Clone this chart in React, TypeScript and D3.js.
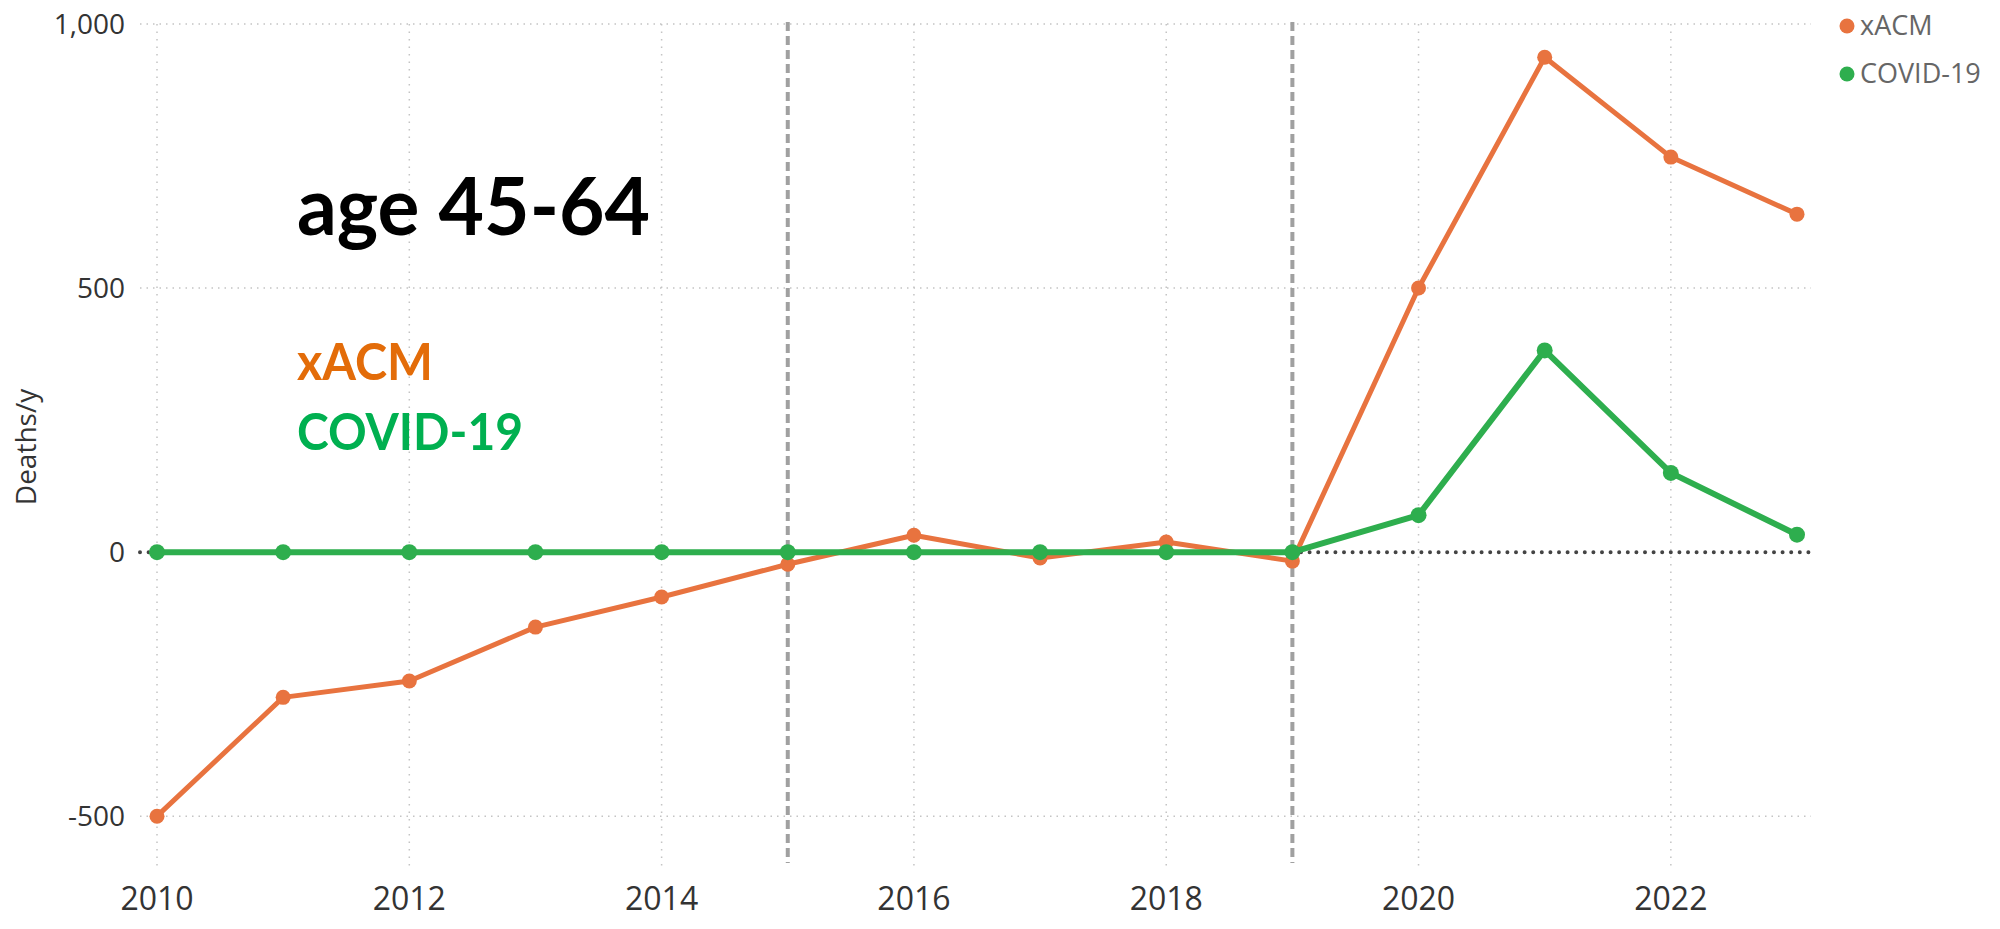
import { useEffect, useRef } from "react";
import * as d3 from "d3";

const years = [2010, 2011, 2012, 2013, 2014, 2015, 2016, 2017, 2018, 2019, 2020, 2021, 2022, 2023];
const xacm = [-500, -275, -244, -142, -85, -23, 32, -11, 19, -17, 500, 937, 748, 640];
const covid = [0, 0, 0, 0, 0, 0, 0, 0, 0, 0, 70, 382, 150, 33];
const yTicks = [-500, 0, 500, 1000];
const xTicks = [2010, 2012, 2014, 2016, 2018, 2020, 2022];
const markerYears = [2015, 2019];

const ORANGE = "#E8733F";
const GREEN = "#2EAE4E";

export default function App() {
  const svgRef = useRef<SVGSVGElement>(null);
  const width = 2000;
  const height = 929;

  useEffect(() => {
    if (!svgRef.current) return;
    const svg = d3.select(svgRef.current);
    svg.selectAll("*").remove();

    const left = 140;
    const right = 1811;
    const top = 24;
    const bottom = 870;

    const x = d3.scaleLinear().domain([2010, 2023]).range([157, 1797]);
    const y = d3.scaleLinear().domain([-600, 1000]).range([869, 24]);

    // gridlines
    svg.append("g")
      .selectAll("line")
      .data(yTicks.filter(d => d !== 0))
      .join("line")
      .attr("x1", left).attr("x2", right)
      .attr("y1", d => y(d)).attr("y2", d => y(d))
      .attr("stroke", "#c4c4c4")
      .attr("stroke-width", 1.5)
      .attr("stroke-dasharray", "1.5,5");

    svg.append("g")
      .selectAll("line")
      .data(xTicks)
      .join("line")
      .attr("x1", d => x(d)).attr("x2", d => x(d))
      .attr("y1", top).attr("y2", bottom)
      .attr("stroke", "#c4c4c4")
      .attr("stroke-width", 1.5)
      .attr("stroke-dasharray", "1.5,6");

    // zero line
    svg.append("line")
      .attr("x1", left).attr("x2", right)
      .attr("y1", y(0)).attr("y2", y(0))
      .attr("stroke", "#444")
      .attr("stroke-width", 4)
      .attr("stroke-linecap", "round")
      .attr("stroke-dasharray", "0,8.6");

    // vertical markers
    svg.append("g")
      .selectAll("line")
      .data(markerYears)
      .join("line")
      .attr("x1", d => x(d)).attr("x2", d => x(d))
      .attr("y1", 22).attr("y2", 863)
      .attr("stroke", "#a0a0a0")
      .attr("stroke-width", 4)
      .attr("stroke-dasharray", "9,5");

    // axes labels
    const fmt = d3.format(",");
    svg.append("g")
      .selectAll("text")
      .data(yTicks)
      .join("text")
      .attr("x", 125)
      .attr("y", d => y(d))
      .attr("dy", "0.35em")
      .attr("text-anchor", "end")
      .attr("font-family", "Open Sans")
      .attr("font-size", 28)
      .attr("fill", "#333")
      .text(d => fmt(d).replace("\u2212", "-"));

    svg.append("g")
      .selectAll("text")
      .data(xTicks)
      .join("text")
      .attr("x", d => x(d))
      .attr("y", 910)
      .attr("text-anchor", "middle")
      .attr("font-family", "Open Sans")
      .attr("font-size", 32)
      .attr("fill", "#333")
      .text(d => d);

    svg.append("text")
      .attr("transform", `translate(36,${(top + bottom) / 2}) rotate(-90)`)
      .attr("text-anchor", "middle")
      .attr("font-family", "Open Sans")
      .attr("font-size", 28)
      .attr("fill", "#333")
      .text("Deaths/y");

    // series
    const line = d3.line<number>()
      .x((_, i) => x(years[i]))
      .y(d => y(d));

    const series = [
      { name: "xACM", values: xacm, color: ORANGE, w: 5, r: 7.5 },
      { name: "COVID-19", values: covid, color: GREEN, w: 6, r: 8 },
    ];

    series.forEach(s => {
      svg.append("path")
        .datum(s.values)
        .attr("fill", "none")
        .attr("stroke", s.color)
        .attr("stroke-width", s.w)
        .attr("stroke-linejoin", "round")
        .attr("d", line);
      svg.append("g")
        .selectAll("circle")
        .data(s.values)
        .join("circle")
        .attr("cx", (_, i) => x(years[i]))
        .attr("cy", d => y(d))
        .attr("r", s.r)
        .attr("fill", s.color);
    });

    // legend
    const legend = svg.append("g");
    series.forEach((s, i) => {
      legend.append("circle")
        .attr("cx", 1847).attr("cy", 26 + i * 48)
        .attr("r", 7.5)
        .attr("fill", s.color);
      legend.append("text")
        .attr("x", 1860).attr("y", 26 + i * 48)
        .attr("dy", "0.35em")
        .attr("font-family", "Open Sans")
        .attr("font-size", 27)
        .attr("fill", "#666")
        .text(s.name);
    });

    // annotations
    svg.append("text")
      .attr("x", 297).attr("y", 235)
      .attr("font-family", "Lato")
      .attr("font-weight", "bold")
      .attr("font-size", 80)
      .attr("textLength", 353)
      .attr("lengthAdjust", "spacingAndGlyphs")
      .attr("fill", "#000")
      .text("age 45-64");

    svg.append("text")
      .attr("x", 297).attr("y", 380)
      .attr("font-family", "Lato")
      .attr("font-weight", "bold")
      .attr("font-size", 52)
      .attr("textLength", 136)
      .attr("lengthAdjust", "spacingAndGlyphs")
      .attr("fill", "#E36C09")
      .text("xACM");

    svg.append("text")
      .attr("x", 297).attr("y", 450)
      .attr("font-family", "Lato")
      .attr("font-weight", "bold")
      .attr("font-size", 52)
      .attr("textLength", 226)
      .attr("lengthAdjust", "spacingAndGlyphs")
      .attr("fill", "#00B050")
      .text("COVID-19");
  }, []);

  return (
    <div style={{ position: "absolute", left: 0, top: 0 }}>
      <svg ref={svgRef} width={width} height={height} style={{ display: "block", background: "#fff" }} />
    </div>
  );
}
